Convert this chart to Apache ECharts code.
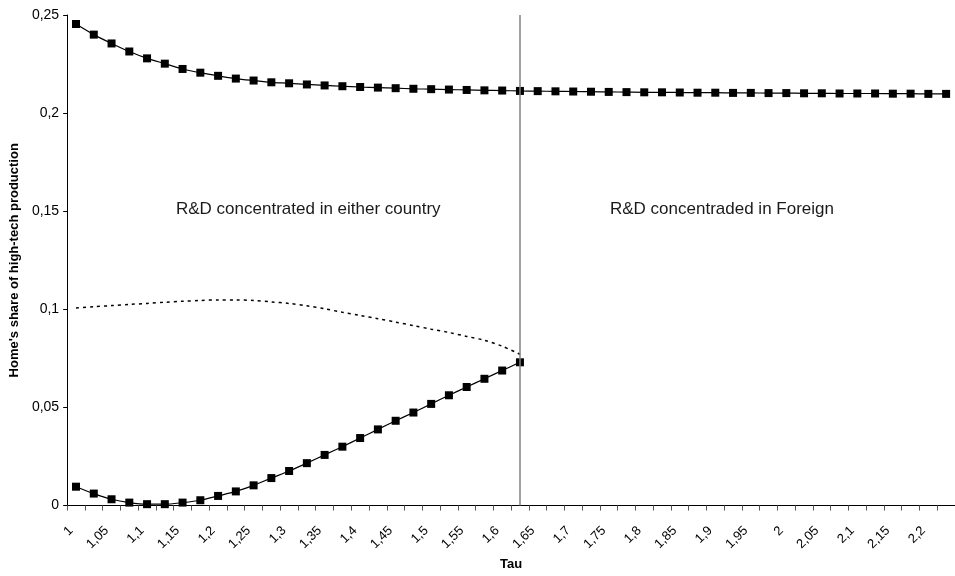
<!DOCTYPE html>
<html>
<head>
<meta charset="utf-8">
<script src="https://cdn.jsdelivr.net/npm/echarts@6/dist/echarts.min.js"></script>
<style>
  html, body { margin: 0; padding: 0; background: #fff; }
  #chart { width: 955px; height: 576px; }
</style>
</head>
<body>
<div id="chart"></div>
<script>
// Tau grid (step 0,025); only every other value is labelled on the axis
const tauLabels = [
  '1', '1,025', '1,05', '1,075', '1,1', '1,125', '1,15', '1,175', '1,2', '1,225',
  '1,25', '1,275', '1,3', '1,325', '1,35', '1,375', '1,4', '1,425', '1,45', '1,475',
  '1,5', '1,525', '1,55', '1,575', '1,6', '1,625', '1,65', '1,675', '1,7', '1,725',
  '1,75', '1,775', '1,8', '1,825', '1,85', '1,875', '1,9', '1,925', '1,95', '1,975',
  '2', '2,025', '2,05', '2,075', '2,1', '2,125', '2,15', '2,175', '2,2', '2,225'
];

// Upper equilibrium branch (defined over the whole range)
const upperShare = [
  0.2454, 0.2400, 0.2355, 0.2314, 0.2279, 0.2252, 0.2225, 0.2206, 0.2190, 0.2176,
  0.2166, 0.2157, 0.2152, 0.2146, 0.2141, 0.2137, 0.2133, 0.2130, 0.2127, 0.2124,
  0.2122, 0.2120, 0.2118, 0.2116, 0.2115, 0.2113, 0.2112, 0.2111, 0.2110, 0.2109,
  0.2108, 0.2107, 0.2106, 0.2106, 0.2105, 0.2104, 0.2104, 0.2103, 0.2103, 0.2102,
  0.2102, 0.2101, 0.2101, 0.2100, 0.2100, 0.2100, 0.2099, 0.2099, 0.2098, 0.2098
];

// Lower equilibrium branch (exists up to tau = 1,625)
const lowerShare = [
  0.0096, 0.0061, 0.0032, 0.0015, 0.0007, 0.0007, 0.0015, 0.0027, 0.0049, 0.0072,
  0.0103, 0.0140, 0.0176, 0.0216, 0.0258, 0.0300, 0.0344, 0.0388, 0.0432, 0.0474,
  0.0518, 0.0562, 0.0604, 0.0646, 0.0688, 0.0730
];

// Unstable middle branch (dotted)
const middleShare = [
  0.1007, 0.1013, 0.1019, 0.1025, 0.1030, 0.1036, 0.1041, 0.1045, 0.1048, 0.1048,
  0.1045, 0.1038, 0.1030, 0.1018, 0.1003, 0.0985, 0.0969, 0.0952, 0.0935, 0.0917,
  0.0899, 0.0882, 0.0862, 0.0842, 0.0812, 0.0771
];

// Threshold tau where R&D becomes concentrated in Foreign
const thresholdTau = '1,625';

const yTicks = { min: 0, max: 0.25, step: 0.05 };

const chart = echarts.init(document.getElementById('chart'), null, { renderer: 'canvas' });

const fontFamily = 'Arial, "Liberation Sans", sans-serif';

chart.setOption({
  animation: false,
  backgroundColor: '#ffffff',
  grid: { left: 66, top: 15, width: 890, height: 494, containLabel: false },
  xAxis: {
    type: 'category',
    data: tauLabels,
    boundaryGap: true,
    name: 'Tau',
    nameLocation: 'middle',
    nameGap: 52,
    nameTextStyle: { fontFamily, fontSize: 13, fontWeight: 'bold', color: '#000' },
    axisLine: { lineStyle: { color: '#000', width: 1 } },
    axisTick: { show: true, interval: 0, length: 5, lineStyle: { color: '#555' } },
    axisLabel: {
      interval: 1,
      rotate: 45,
      margin: 18,
      padding: [0, 7, 0, 0],
      fontFamily,
      fontSize: 13,
      color: '#000'
    },
    splitLine: { show: false }
  },
  yAxis: {
    type: 'value',
    min: yTicks.min,
    max: yTicks.max,
    interval: yTicks.step,
    name: "Home's share of high-tech production",
    nameLocation: 'middle',
    nameGap: 42,
    nameTextStyle: { fontFamily, fontSize: 13, fontWeight: 'bold', color: '#000' },
    axisLine: { show: true, lineStyle: { color: '#000', width: 1 } },
    axisTick: { show: true, length: 4, lineStyle: { color: '#000' } },
    axisLabel: {
      margin: 8,
      fontFamily,
      fontSize: 14,
      color: '#000',
      formatter: v => String(Math.round(v * 100) / 100).replace('.', ',')
    },
    splitLine: { show: false }
  },
  series: [
    {
      name: 'Upper',
      type: 'line',
      data: upperShare,
      symbol: 'rect',
      symbolSize: 8,
      smooth: 0.3,
      lineStyle: { color: '#000', width: 1.2 },
      itemStyle: { color: '#000' },
      z: 3
    },
    {
      name: 'Middle',
      type: 'line',
      data: middleShare,
      symbol: 'none',
      smooth: 0.3,
      lineStyle: { color: '#000', width: 1.5, type: [3, 4] },
      z: 2
    },
    {
      name: 'Lower',
      type: 'line',
      data: lowerShare,
      symbol: 'rect',
      symbolSize: 8,
      smooth: 0.3,
      lineStyle: { color: '#000', width: 1.2 },
      itemStyle: { color: '#000' },
      z: 3,
      markLine: {
        silent: true,
        symbol: 'none',
        label: { show: false },
        lineStyle: { color: '#808080', width: 1.5, type: 'solid' },
        data: [{ xAxis: thresholdTau }]
      }
    }
  ],
  graphic: [
    {
      type: 'text',
      left: 176,
      top: 201,
      style: {
        text: 'R&D concentrated in either country',
        fontFamily,
        fontSize: 17,
        fill: '#1a1a1a'
      }
    },
    {
      type: 'text',
      left: 610,
      top: 201,
      style: {
        text: 'R&D concentraded in Foreign',
        fontFamily,
        fontSize: 17,
        fill: '#1a1a1a'
      }
    }
  ]
});
</script>
</body>
</html>
